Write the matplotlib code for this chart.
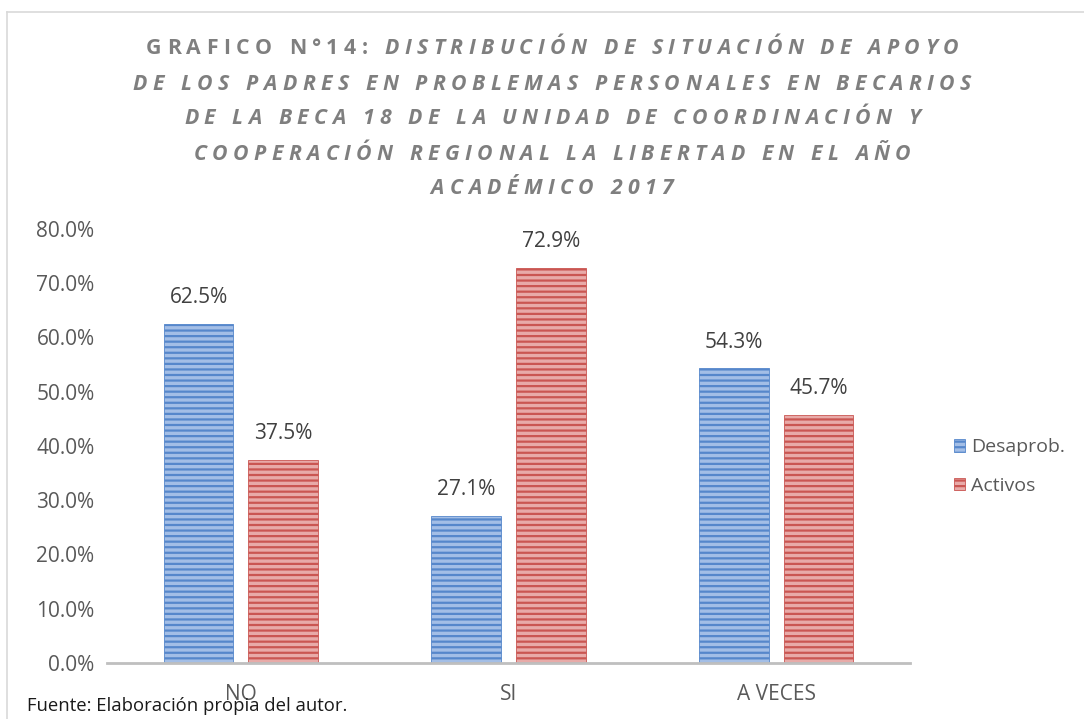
import matplotlib
matplotlib.use("Agg")
import matplotlib.pyplot as plt
import numpy as np

plt.rcParams['font.family'] = ['Open Sans', 'DejaVu Sans']
plt.rcParams['hatch.linewidth'] = 1.6

# datos
categorias = ["NO", "SI", "A VECES"]
desaprob = [62.5, 27.1, 54.3]
activos = [37.5, 72.9, 45.7]
series = ["Desaprob.", "Activos"]
yticks = [0, 10, 20, 30, 40, 50, 60, 70, 80]

titulo_lineas = [
    ("GRAFICO N°14: ", "DISTRIBUCIÓN DE SITUACIÓN DE APOYO"),
    ("", "DE LOS PADRES EN PROBLEMAS PERSONALES EN BECARIOS"),
    ("", "DE LA BECA 18 DE LA UNIDAD DE COORDINACIÓN Y"),
    ("", "COOPERACIÓN REGIONAL LA LIBERTAD EN EL AÑO"),
    ("", "ACADÉMICO 2017"),
]
fuente = "Fuente: Elaboración propia del autor."

W, H = 1084, 719
fig = plt.figure(figsize=(W / 100, H / 100), dpi=100)
ax = fig.add_axes([107 / W, 1 - 663 / H, (910 - 107) / W, (663 - 229) / H])

x = np.arange(len(categorias))
ancho = 0.26
desp = 0.158
gris = '#595959'
fs = 15

b1 = ax.bar(x - desp, desaprob, ancho, color='#A3BEE6', edgecolor='#5687CB',
            hatch='---', linewidth=0.6, label=series[0])
b2 = ax.bar(x + desp, activos, ancho, color='#E8AAA8', edgecolor='#CA5652',
            hatch='---', linewidth=0.6, label=series[1])

for barras in (b1, b2):
    for b in barras:
        h = b.get_height()
        ax.annotate(f"{h:.1f}%", (b.get_x() + b.get_width() / 2, h),
                    xytext=(0, 19), textcoords='offset points',
                    ha='center', va='center', fontsize=fs, color='#404040')

ax.set_xlim(-0.5, 2.5)
ax.set_ylim(0, 80)
ax.set_yticks(yticks)
ax.set_yticklabels([f"{v:.1f}%" for v in yticks])
ax.set_xticks(x)
ax.set_xticklabels(categorias)
ax.tick_params(axis='both', length=0, labelsize=fs, labelcolor=gris)
ax.tick_params(axis='y', pad=9)
ax.tick_params(axis='x', pad=15)
for s in ['top', 'right', 'left']:
    ax.spines[s].set_visible(False)
ax.spines['bottom'].set_color('#BFBFBF')
ax.spines['bottom'].set_linewidth(2)

leg = fig.legend(handles=[b1, b2], labels=series, loc='upper left',
                 bbox_to_anchor=(936 / W, 1 - 421 / H), frameon=False,
                 fontsize=14, handlelength=0.6, handleheight=0.6,
                 handletextpad=0.3, labelspacing=1.05)
for t in leg.get_texts():
    t.set_color(gris)

# borde del grafico
fig.add_artist(plt.Line2D([7 / W, 7 / W], [0, 1 - 12 / H], color='#D9D9D9', lw=1.2))
fig.add_artist(plt.Line2D([7 / W, 1], [1 - 12 / H, 1 - 12 / H], color='#D9D9D9', lw=1.2))

# titulo con espaciado entre letras
renderer = fig.canvas.get_renderer()
y_lineas = [48, 84, 119, 154, 188]
espacio = 5.4
tam = 15.3
color_t = '#7F7F7F'

def ancho_txt(c, estilo):
    t = fig.text(0, 0, c, fontsize=tam, fontweight='bold', style=estilo)
    w = t.get_window_extent(renderer).width
    t.remove()
    return w

for (normal, cursiva), yl in zip(titulo_lineas, y_lineas):
    piezas = [(c, 'normal') for c in normal] + [(c, 'italic') for c in cursiva]
    anchos = [ancho_txt(c, e) if c != ' ' else ancho_txt('n', e) * 0.45 for c, e in piezas]
    total = sum(anchos) + espacio * (len(piezas) - 1)
    xp = 552 - total / 2
    for (c, e), w in zip(piezas, anchos):
        if c != ' ':
            fig.text(xp / W, 1 - yl / H, c, fontsize=tam, fontweight='bold', style=e,
                     color=color_t, ha='left', va='center')
        xp += w + espacio

fig.text(27 / W, 1 - 706 / H, fuente, fontsize=13.3, color='#1A1A1A', ha='left', va='center')

fig.savefig("out.png", dpi=100)
